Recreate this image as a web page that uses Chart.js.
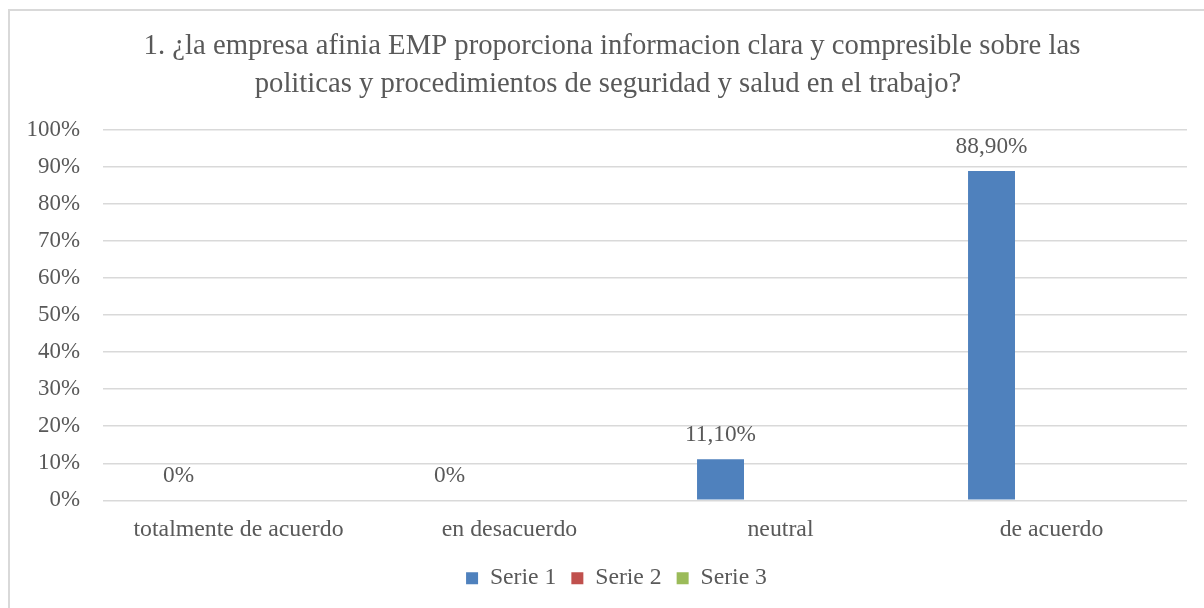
<!DOCTYPE html>
<html>
<head>
<meta charset="utf-8">
<script src="https://cdn.jsdelivr.net/npm/chart.js@4"></script>
<style>
  html, body { margin: 0; padding: 0; background: #fff; overflow: hidden; }
  #wrap { width: 1204px; height: 608px; }
</style>
</head>
<body>
<div id="wrap"><canvas id="chart" width="1204" height="608"></canvas></div>
<script>
const categories = ['totalmente de acuerdo', 'en desacuerdo', 'neutral', 'de acuerdo'];
const serie1 = [0, 0, 11.1, 88.9];
const serie2 = [null, null, null, null];
const serie3 = [null, null, null, null];
const yTicks = [0, 10, 20, 30, 40, 50, 60, 70, 80, 90, 100];
const titleLines = [
    '1. ¿la empresa afinia EMP proporciona informacion clara y compresible sobre las',
    'politicas y procedimientos de seguridad y salud en el trabajo?'
];

const FONT = '"Liberation Serif", "Times New Roman", serif';
const GREY = '#595959';

/* frame + title drawn on the canvas */
const framePlugin = {
    id: 'frame',
    afterLayout(chart) {
        // legend sits a bit right of centre in the original
        chart.legend.left += 15;
        chart.legend.right += 15;
    },
    beforeDraw(chart) {
        const c = chart.ctx;
        c.save();
        c.strokeStyle = '#d9d9d9';
        c.lineWidth = 2;
        c.beginPath();
        c.moveTo(9, 700);
        c.lineTo(9, 10);
        c.lineTo(1300, 10);
        c.stroke();
        c.fillStyle = GREY;
        c.font = '28.7px ' + FONT;
        c.textAlign = 'center';
        c.textBaseline = 'alphabetic';
        c.fillText(titleLines[0], 612, 54);
        c.fillText(titleLines[1], 608, 92);
        c.restore();
    }
};

/* value labels above Serie 1 */
const labelPlugin = {
    id: 'valueLabels',
    afterDatasetsDraw(chart) {
        const c = chart.ctx;
        const meta = chart.getDatasetMeta(0);
        c.save();
        c.fillStyle = GREY;
        c.font = '23.3px ' + FONT;
        c.textAlign = 'center';
        c.textBaseline = 'middle';
        meta.data.forEach((bar, i) => {
            const v = serie1[i];
            const txt = v === 0 ? '0%' : v.toFixed(2).replace('.', ',') + '%';
            c.fillText(txt, bar.x, bar.y - 24);
        });
        c.restore();
    }
};

new Chart(document.getElementById('chart'), {
    type: 'bar',
    data: {
        labels: categories,
        datasets: [
            { label: 'Serie 1', data: serie1, backgroundColor: '#4F81BD' },
            { label: 'Serie 2', data: serie2, backgroundColor: '#C0504D' },
            { label: 'Serie 3', data: serie3, backgroundColor: '#9BBB59' }
        ]
    },
    options: {
        responsive: false,
        animation: false,
        devicePixelRatio: 1,
        categoryPercentage: 0.664,
        barPercentage: 0.783,
        layout: { padding: { left: 16, right: 17, top: 130, bottom: 8 } },
        plugins: {
            title: { display: false },
            tooltip: { enabled: false },
            legend: {
                position: 'bottom',
                labels: {
                    color: GREY,
                    font: { family: FONT, size: 23.7 },
                    boxWidth: 12,
                    boxHeight: 12,
                    padding: 15
                }
            }
        },
        scales: {
            x: {
                afterFit(scale) { scale.height = 51; },
                grid: { display: false, drawTicks: false },
                border: { display: false },
                ticks: { color: GREY, font: { family: FONT, size: 23.8 }, padding: 15, maxRotation: 0 }
            },
            y: {
                min: 0,
                max: 100,
                afterFit(scale) { scale.width = 87; },
                afterBuildTicks(scale) { scale.ticks = yTicks.map(v => ({ value: v })); },
                grid: { color: '#d9d9d9', lineWidth: 1.5, drawTicks: false },
                border: { display: false },
                ticks: {
                    color: GREY,
                    font: { family: FONT, size: 22.9 },
                    padding: 23,
                    callback: v => v + '%'
                }
            }
        }
    },
    plugins: [framePlugin, labelPlugin]
});
</script>
</body>
</html>
